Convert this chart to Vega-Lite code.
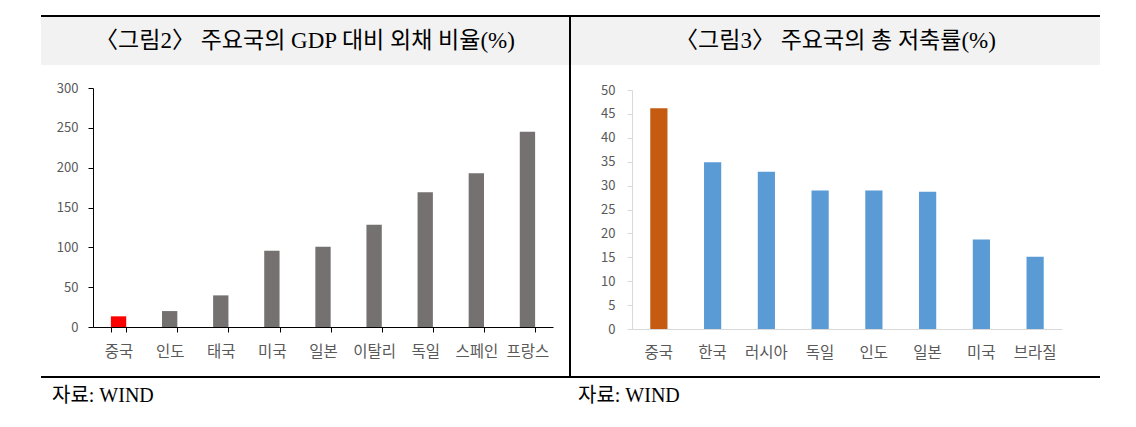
{
  "$schema": "https://vega.github.io/schema/vega-lite/v6.json",
  "background": "white",
  "padding": {"left": 41, "top": 15, "right": 0, "bottom": 0},
  "spacing": 0,
  "config": {
    "view": {"stroke": null},
    "concat": {"spacing": 0},
    "font": "Noto Sans CJK KR",
    "axis": {"labelFont": "Noto Sans CJK KR", "labelColor": "#595959", "grid": false, "title": null}
  },
  "datasets": {
    "debt": [
      {"country": "중국", "value": 13.4},
      {"country": "인도", "value": 20},
      {"country": "태국", "value": 39.7},
      {"country": "미국", "value": 95.8},
      {"country": "일본", "value": 100.8},
      {"country": "이탈리", "value": 128.5},
      {"country": "독일", "value": 169},
      {"country": "스페인", "value": 193},
      {"country": "프랑스", "value": 245.2}
    ],
    "saving": [
      {"country": "중국", "value": 46.2},
      {"country": "한국", "value": 34.9},
      {"country": "러시아", "value": 32.9},
      {"country": "독일", "value": 29.0},
      {"country": "인도", "value": 29.0},
      {"country": "일본", "value": 28.7},
      {"country": "미국", "value": 18.7},
      {"country": "브라질", "value": 15.1}
    ]
  },
  "vconcat": [
    {
      "data": {"values": [{}]},
      "width": 1059, "height": 2,
      "view": {"fill": "#000000", "stroke": null},
      "mark": {"type": "point", "size": 0, "opacity": 0, "strokeWidth": 0},
      "encoding": {}
    },
    {
      "spacing": 0,
      "hconcat": [
        {
          "spacing": 17,
          "vconcat": [
            {
              "data": {"values": [{}]},
              "width": 528, "height": 48,
              "view": {"fill": "#f2f2f2", "stroke": null},
              "mark": {"type": "text", "text": "〈그림2〉 주요국의 GDP 대비 외채 비율(%)", "font": "Liberation Serif, Noto Sans CJK KR", "fontSize": 23, "color": "#000000"},
              "encoding": {}
            },
            {
              "spacing": 0,
              "hconcat": [
                {
                  "data": {"values": [{}]},
                  "width": 12, "height": 1,
                  "mark": {"type": "point", "size": 0, "opacity": 0, "strokeWidth": 0},
                  "encoding": {}
                },
                {
                  "data": {"name": "debt"},
                  "width": 460, "height": 239,
                  "mark": {"type": "bar"},
                  "encoding": {
                    "x": {
                      "field": "country", "type": "nominal", "sort": null,
                      "scale": {"paddingInner": 0.7, "paddingOuter": 0.35},
                      "axis": {"labelAngle": 0, "labelFontSize": 15.5, "labelPadding": 12, "domainColor": "#000000", "tickColor": "#000000", "tickSize": 5, "tickBand": "extent"}
                    },
                    "y": {
                      "field": "value", "type": "quantitative",
                      "scale": {"domain": [0, 300], "nice": false},
                      "axis": {"values": [0, 50, 100, 150, 200, 250, 300], "domainColor": "#000000", "tickColor": "#000000", "tickSize": 5, "labelPadding": 10, "labelFontSize": 13, "minExtent": 40}
                    },
                    "color": {"condition": {"test": "datum.country === '중국'", "value": "#ff0000"}, "value": "#767171"}
                  }
                }
              ]
            }
          ]
        },
        {
          "data": {"values": [{}]},
          "width": 2, "height": 359,
          "view": {"fill": "#000000", "stroke": null},
          "mark": {"type": "point", "size": 0, "opacity": 0, "strokeWidth": 0},
          "encoding": {}
        },
        {
          "spacing": 19,
          "vconcat": [
            {
              "data": {"values": [{}]},
              "width": 529, "height": 48,
              "view": {"fill": "#f2f2f2", "stroke": null},
              "mark": {"type": "text", "text": "〈그림3〉 주요국의 총 저축률(%)", "font": "Liberation Serif, Noto Sans CJK KR", "fontSize": 23, "color": "#000000"},
              "encoding": {}
            },
            {
              "spacing": 0,
              "hconcat": [
                {
                  "data": {"values": [{}]},
                  "width": 21, "height": 1,
                  "mark": {"type": "point", "size": 0, "opacity": 0, "strokeWidth": 0},
                  "encoding": {}
                },
                {
                  "data": {"name": "saving"},
                  "width": 430, "height": 239,
                  "mark": {"type": "bar"},
                  "encoding": {
                    "x": {
                      "field": "country", "type": "nominal", "sort": null,
                      "scale": {"paddingInner": 0.68, "paddingOuter": 0.34},
                      "axis": {"labelAngle": 0, "labelFontSize": 15.5, "labelPadding": 16, "domainColor": "#d9d9d9", "ticks": false}
                    },
                    "y": {
                      "field": "value", "type": "quantitative",
                      "scale": {"domain": [0, 50], "nice": false},
                      "axis": {"values": [0, 5, 10, 15, 20, 25, 30, 35, 40, 45, 50], "domainColor": "#d9d9d9", "tickColor": "#d9d9d9", "tickSize": 5, "labelPadding": 12, "labelFontSize": 13, "minExtent": 40}
                    },
                    "color": {"condition": {"test": "datum.country === '중국'", "value": "#c55a11"}, "value": "#5b9bd5"}
                  }
                }
              ]
            }
          ]
        }
      ]
    },
    {
      "data": {"values": [{}]},
      "width": 1059, "height": 2,
      "view": {"fill": "#000000", "stroke": null},
      "mark": {"type": "point", "size": 0, "opacity": 0, "strokeWidth": 0},
      "encoding": {}
    },
    {
      "spacing": 0,
      "hconcat": [
        {
          "data": {"values": [{}]},
          "width": 530, "height": 1,
          "title": {"text": "자료: WIND", "orient": "bottom", "anchor": "start", "dx": 11, "offset": 7, "baseline": "top", "font": "Liberation Serif, Noto Sans CJK KR", "fontSize": 20, "fontWeight": "normal", "color": "#000000"},
          "mark": {"type": "point", "size": 0, "opacity": 0, "strokeWidth": 0},
          "encoding": {}
        },
        {
          "data": {"values": [{}]},
          "width": 529, "height": 1,
          "title": {"text": "자료: WIND", "orient": "bottom", "anchor": "start", "dx": 7, "offset": 7, "baseline": "top", "font": "Liberation Serif, Noto Sans CJK KR", "fontSize": 20, "fontWeight": "normal", "color": "#000000"},
          "mark": {"type": "point", "size": 0, "opacity": 0, "strokeWidth": 0},
          "encoding": {}
        }
      ]
    }
  ]
}
